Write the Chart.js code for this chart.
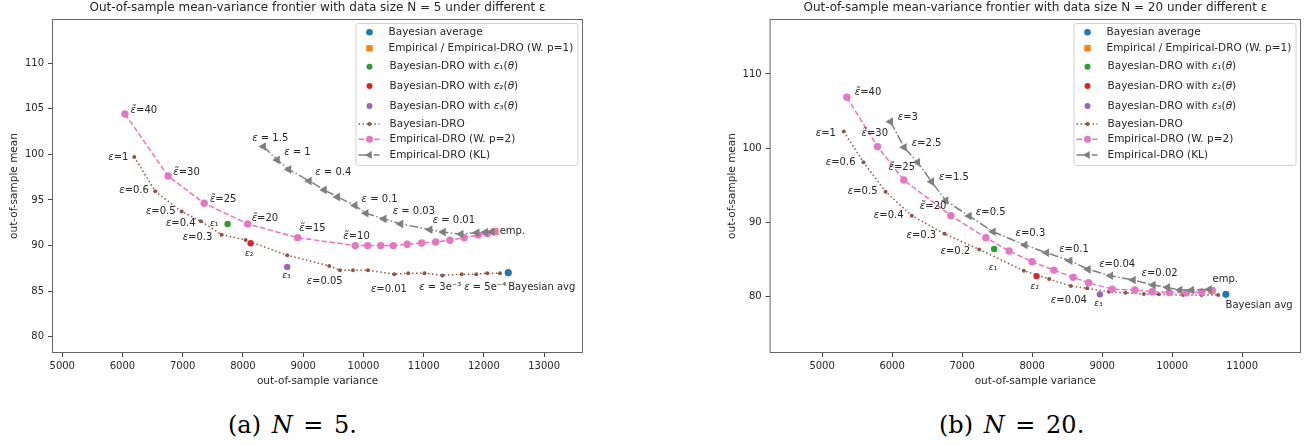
<!DOCTYPE html>
<html>
<head>
<meta charset="utf-8">
<script src="https://cdn.jsdelivr.net/npm/chart.js@4.4.1/dist/chart.umd.min.js"></script>
<style>
  html, body { margin: 0; padding: 0; background: #fff; }
  body { width: 1316px; height: 446px; position: relative; overflow: hidden; }
  canvas { position: absolute; top: 0; }
  #c5 { left: 0; }
  #c20 { left: 658px; }
  .caption { position: absolute; top: 410px; line-height: 30px; font-family: 'DejaVu Serif', 'Liberation Serif', serif; font-size: 24px; color: #000; white-space: nowrap; word-spacing: 3px; }
  #capA { left: 228px; }
  #capB { left: 939px; }
</style>
</head>
<body>
<canvas id="c5" width="658" height="395"></canvas>
<canvas id="c20" width="658" height="395"></canvas>
<div class="caption" id="capA">(a) <i>N</i> = 5.</div>
<div class="caption" id="capB">(b) <i>N</i> = 20.</div>
<script>
// ---- data, N = 5 (variance, mean) ----
const avgVar5 = [12404], avgMean5 = [87.02];
const empVar5 = [12183], empMean5 = [91.52];
const e1Var5 = [7745], e1Mean5 = [92.37];
const e2Var5 = [8127], e2Mean5 = [90.25];
const e3Var5 = [8735], e3Mean5 = [87.65];

const bdroVar5 = [6195, 6544, 6982, 7302, 7646, 8044, 8735, 9432, 9610, 9826, 10075, 10511, 10744, 11014, 11312, 11630, 11873, 12055, 12266];
const bdroMean5 = [99.72, 95.95, 93.72, 92.66, 91.19, 90.61, 88.93, 87.76, 87.29, 87.29, 87.29, 86.85, 86.96, 86.96, 86.72, 86.85, 86.85, 86.96, 86.96];

const wassVar5 = [6041, 6757, 7357, 8078, 8908, 9864, 10070, 10286, 10495, 10727, 10966, 11199, 11436, 11673, 11906, 12055, 12183];
const wassMean5 = [104.44, 97.63, 94.64, 92.37, 90.86, 89.99, 89.99, 89.99, 89.99, 90.14, 90.28, 90.39, 90.58, 90.86, 91.16, 91.30, 91.52];

const klVar5 = [8340, 8569, 8760, 9100, 9349, 9568, 9859, 10042, 10340, 10618, 11104, 11325, 11619, 11884, 12025, 12133];
const klMean5 = [100.87, 99.39, 98.35, 97.09, 96.10, 95.33, 94.40, 93.54, 92.92, 92.37, 91.74, 91.47, 91.25, 91.41, 91.46, 91.52];

const xTicks5 = [5000, 6000, 7000, 8000, 9000, 10000, 11000, 12000, 13000];
const yTicks5 = [80, 85, 90, 95, 100, 105, 110];

// label text and where it sits (variance, mean of its left-middle point)
const notes5 = [
  ['ε\u0303=40', 6135, 104.80], ['ε\u0303=30', 6843, 98.00], ['ε\u0303=25', 7452, 95.11],
  ['ε\u0303=20', 8144, 92.99], ['ε\u0303=15', 8934, 91.90], ['ε\u0303=10', 9665, 91.05],
  ['ε=1', 5764, 99.69], ['ε=0.6', 5946, 96.02], ['ε=0.5', 6389, 93.79], ['ε=0.4', 6721, 92.44],
  ['ε₁', 7452, 92.44], ['ε=0.3', 6999, 90.91], ['ε₂', 8033, 89.15], ['ε₃', 8652, 86.66],
  ['ε=0.05', 9057, 86.11], ['ε = 1.5', 8154, 101.77], ['ε = 1', 8685, 100.23], ['ε = 0.4', 9200, 98.00],
  ['ε = 0.1', 9970, 95.08], ['ε = 0.03', 10485, 93.79], ['ε = 0.01', 11149, 92.73], ['emp.', 12261, 91.52],
  ['ε=0.01', 10124, 85.20], ['ε = 3e⁻³', 10926, 85.42], ['ε = 5e⁻⁴', 11673, 85.42], ['Bayesian avg', 12404, 85.42]
];

// ---- data, N = 20 ----
const avgVar20 = [10767], avgMean20 = [80.30];
const empVar20 = [10567], empMean20 = [80.78];
const e1Var20 = [7457], e1Mean20 = [86.41];
const e2Var20 = [8063], e2Mean20 = [82.76];
const e3Var20 = [8967], e3Mean20 = [80.30];

const bdroVar20 = [5310, 5591, 5906, 6281, 6749, 7243, 7881, 8243, 8553, 8786, 9096, 9334, 9596, 9810, 10157, 10420, 10657];
const bdroMean20 = [102.23, 98.10, 94.14, 90.90, 88.47, 86.36, 83.48, 82.36, 81.42, 81.11, 80.65, 80.51, 80.34, 80.30, 80.20, 80.20, 80.20];

const wassVar20 = [5353, 5791, 6167, 6839, 7339, 7671, 8000, 8310, 8586, 8806, 9143, 9467, 9714, 9957, 10206, 10420, 10571];
const wassMean20 = [106.86, 100.20, 95.71, 90.90, 87.93, 86.14, 84.69, 83.57, 82.59, 81.86, 81.01, 80.88, 80.65, 80.57, 80.51, 80.61, 80.78];

const klVar20 = [5977, 6171, 6363, 6563, 6767, 7100, 7443, 7896, 8206, 8539, 8800, 9120, 9443, 9729, 9934, 10110, 10277, 10529];
const klMean20 = [103.57, 100.12, 98.10, 95.48, 92.92, 90.86, 88.74, 86.95, 85.91, 84.83, 83.67, 82.81, 82.23, 81.55, 81.24, 80.88, 80.88, 80.97];

const xTicks20 = [5000, 6000, 7000, 8000, 9000, 10000, 11000];
const yTicks20 = [80, 90, 100, 110];

const notes20 = [
  ['ε\u0303=40', 5467, 107.54], ['ε=3', 6081, 104.17], ['ε=1', 4910, 101.92], ['ε\u0303=30', 5563, 101.92],
  ['ε=2.5', 6281, 100.66], ['ε=0.6', 5053, 98.10], ['ε\u0303=25', 5949, 97.42], ['ε=1.5', 6671, 96.08],
  ['ε=0.5', 5367, 94.13], ['ε\u0303=20', 6396, 92.11], ['ε=0.5', 7196, 91.30], ['ε=0.4', 5739, 90.90],
  ['ε=0.3', 6206, 88.25], ['ε=0.2', 6691, 86.14], ['ε=0.3', 7763, 88.52], ['ε=0.1', 8386, 86.37],
  ['ε=0.04', 8957, 84.38], ['ε=0.02', 9563, 83.13], ['emp.', 10577, 82.36], ['ε₁', 7381, 83.88],
  ['ε₂', 7977, 81.32], ['ε=0.04', 8267, 79.43], ['ε₃', 8886, 78.99], ['Bayesian avg', 10763, 78.76]
];

const legendLabels = [
  'Bayesian average', 'Empirical / Empirical-DRO (W. p=1)',
  'Bayesian-DRO with ε₁(θ)', 'Bayesian-DRO with ε₂(θ)', 'Bayesian-DRO with ε₃(θ)',
  'Bayesian-DRO', 'Empirical-DRO (W. p=2)', 'Empirical-DRO (KL)'
];

// ---- drawing ----
const FONT = '"DejaVu Sans"';
const TXT = '#262626';
const BLUE = '#1f77b4', ORANGE = '#ff7f0e', GREEN = '#2ca02c', RED = '#d62728',
      PURPLE = '#9467bd', BROWN = '#8c564b', PINK = '#e377c2', GRAY = '#7f7f7f';

const DOTTED = [1.5, 2.5], DASHED = [5.5, 2.4], DASHDOT = [9, 2.4, 1.5, 2.4];

function pts(xs, ys) {
  return xs.map((v, i) => ({ x: v, y: ys[i] }));
}

// draw text, with ε and θ in italics like mathtext
function richText(ctx, text, x, y, size) {
  const parts = text.split(/(ε\u0303?|θ)/).filter(s => s.length);
  let cx = x;
  parts.forEach(s => {
    const it = /^[εθ]/.test(s);
    ctx.font = (it ? 'italic ' : '') + size + 'px ' + FONT;
    ctx.fillText(s, cx, y);
    cx += ctx.measureText(s).width;
  });
}

function drawMarker(ctx, style, x, y, r, color) {
  ctx.save();
  ctx.fillStyle = color;
  ctx.beginPath();
  if (style === 'rect') {
    ctx.rect(x - r, y - r, 2 * r, 2 * r);
  } else if (style === 'triangle') {
    ctx.moveTo(x - r, y);
    ctx.lineTo(x + r * 0.5, y - r * 0.87);
    ctx.lineTo(x + r * 0.5, y + r * 0.87);
    ctx.closePath();
  } else {
    ctx.arc(x, y, r, 0, Math.PI * 2);
  }
  ctx.fill();
  ctx.restore();
}

// legend handles, same order as the labels
const handles = [
  { style: 'circle', r: 3.3, color: BLUE },
  { style: 'rect', r: 3.2, color: ORANGE },
  { style: 'circle', r: 3, color: GREEN },
  { style: 'circle', r: 3, color: RED },
  { style: 'circle', r: 3, color: PURPLE },
  { style: 'circle', r: 2, color: BROWN, dash: DOTTED },
  { style: 'circle', r: 3.5, color: PINK, dash: DASHED },
  { style: 'triangle', r: 4.5, color: GRAY, dash: DASHDOT }
];
const rowY = [9.3, 25.3, 43.7, 63, 83, 101, 116.3, 132];

function framePlugin() {
  return {
    id: 'frame',
    afterDatasetsDraw(chart) {
      const { ctx, chartArea: a } = chart;
      ctx.save();
      ctx.strokeStyle = '#666';
      ctx.lineWidth = 1;
      ctx.strokeRect(a.left + 0.5, a.top + 0.5, a.right - a.left - 1, a.bottom - a.top - 1);
      ctx.restore();
    }
  };
}

function notesPlugin(notes) {
  return {
    id: 'notes',
    afterDatasetsDraw(chart) {
      const { ctx, scales: { x, y } } = chart;
      ctx.save();
      ctx.fillStyle = TXT;
      ctx.textBaseline = 'middle';
      ctx.textAlign = 'left';
      notes.forEach(([text, vx, vy]) => {
        const size = /^ε[₁₂₃]$/.test(text) ? 9 : 10;
        richText(ctx, text, x.getPixelForValue(vx), y.getPixelForValue(vy), size);
      });
      ctx.restore();
    }
  };
}

function legendPlugin() {
  return {
    id: 'boxLegend',
    afterDraw(chart) {
      const { ctx, chartArea: a } = chart;
      const w = 222, h = 142;
      const left = a.right - 5.5 - w, top = a.top + 4;
      ctx.save();
      ctx.beginPath();
      ctx.roundRect(left + 0.5, top + 0.5, w, h, 2.5);
      ctx.fillStyle = 'rgba(255,255,255,0.8)';
      ctx.fill();
      ctx.strokeStyle = '#d0d0d0';
      ctx.lineWidth = 1;
      ctx.stroke();
      legendLabels.forEach((label, i) => {
        const hd = handles[i];
        const cy = top + rowY[i];
        if (hd.dash) {
          ctx.save();
          ctx.strokeStyle = hd.color;
          ctx.lineWidth = 1.5;
          ctx.setLineDash(hd.dash);
          ctx.beginPath();
          ctx.moveTo(left + 3, cy);
          ctx.lineTo(left + 24, cy);
          ctx.stroke();
          ctx.restore();
        }
        drawMarker(ctx, hd.style, left + 14, cy, hd.r, hd.color);
        ctx.fillStyle = TXT;
        ctx.textBaseline = 'middle';
        richText(ctx, label, left + (i < 2 ? 33 : 34), cy, 10.5);
      });
      ctx.restore();
    }
  };
}

function dot(label, data, color, r, style, order) {
  return {
    label, data, order,
    showLine: false,
    pointStyle: style,
    pointRadius: r,
    pointBackgroundColor: color,
    pointBorderColor: color,
    pointBorderWidth: 0,
    backgroundColor: color,
    borderColor: color
  };
}

function curve(label, data, color, dash, r, style, order) {
  return {
    label, data, order,
    showLine: true,
    borderColor: color,
    borderWidth: 1.5,
    borderDash: dash,
    fill: false,
    tension: 0,
    pointStyle: style,
    pointRadius: r,
    pointRotation: style === 'triangle' ? -90 : 0,
    pointBackgroundColor: color,
    pointBorderColor: color,
    pointBorderWidth: 0
  };
}

function makeChart(id, p) {
  const tickFont = { family: FONT, size: 10 };
  const labelFont = { family: FONT, size: 10.5 };
  return new Chart(document.getElementById(id), {
    type: 'scatter',
    data: {
      datasets: [
        dot('Bayesian average', pts(p.avgVar, p.avgMean), BLUE, 3.6, 'circle', 8),
        dot('Empirical / Empirical-DRO (W. p=1)', pts(p.empVar, p.empMean), ORANGE, 5, 'rect', 7),
        dot('Bayesian-DRO with ε1', pts(p.e1Var, p.e1Mean), GREEN, 3.2, 'circle', 6),
        dot('Bayesian-DRO with ε2', pts(p.e2Var, p.e2Mean), RED, 3.2, 'circle', 5),
        dot('Bayesian-DRO with ε3', pts(p.e3Var, p.e3Mean), PURPLE, 3.2, 'circle', 4),
        curve('Bayesian-DRO', pts(p.bdroVar, p.bdroMean), BROWN, DOTTED, 2, 'circle', 3),
        curve('Empirical-DRO (W. p=2)', pts(p.wassVar, p.wassMean), PINK, DASHED, 3.7, 'circle', 2),
        curve('Empirical-DRO (KL)', pts(p.klVar, p.klMean), GRAY, DASHDOT, 5, 'triangle', 1)
      ]
    },
    options: {
      responsive: false,
      animation: false,
      events: [],
      layout: { padding: p.padding },
      plugins: {
        legend: { display: false },
        tooltip: { enabled: false },
        title: {
          display: true,
          fullSize: false,
          text: p.title,
          color: TXT,
          font: { family: FONT, size: 12, weight: 'normal', lineHeight: 1.2 },
          padding: { top: 0.8, bottom: 3.8 }
        }
      },
      scales: {
        x: {
          type: 'linear',
          min: p.xMin,
          max: p.xMax,
          afterBuildTicks: s => { s.ticks = p.xTicks.map(v => ({ value: v })); },
          afterFit: s => { s.height = 42; },
          ticks: { font: tickFont, color: TXT, padding: 3, maxRotation: 0, autoSkip: false, callback: v => String(v) },
          grid: { drawOnChartArea: false, drawTicks: true, tickLength: 4, color: '#444' },
          border: { display: false },
          title: { display: true, text: 'out-of-sample variance', color: TXT, font: labelFont, padding: { top: 0, bottom: 7.5 } }
        },
        y: {
          type: 'linear',
          min: p.yMin,
          max: p.yMax,
          afterBuildTicks: s => { s.ticks = p.yTicks.map(v => ({ value: v })); },
          afterFit: s => { s.width = 52; },
          ticks: { font: tickFont, color: TXT, padding: 4, autoSkip: false, callback: v => String(v) },
          grid: { drawOnChartArea: false, drawTicks: true, tickLength: 4, color: '#444' },
          border: { display: false },
          title: { display: true, text: 'out-of-sample mean', color: TXT, font: labelFont, padding: { top: 8.3, bottom: 0 } }
        }
      }
    },
    plugins: [framePlugin(), notesPlugin(p.notes), legendPlugin()]
  });
}

makeChart('c5', {
  title: 'Out-of-sample mean-variance frontier with data size N = 5 under different ε',
  avgVar: avgVar5, avgMean: avgMean5, empVar: empVar5, empMean: empMean5,
  e1Var: e1Var5, e1Mean: e1Mean5, e2Var: e2Var5, e2Mean: e2Mean5, e3Var: e3Var5, e3Mean: e3Mean5,
  bdroVar: bdroVar5, bdroMean: bdroMean5, wassVar: wassVar5, wassMean: wassMean5, klVar: klVar5, klMean: klMean5,
  xTicks: xTicks5, yTicks: yTicks5, notes: notes5,
  xMin: 4830, xMax: 13645, yMin: 78.2, yMax: 114.86,
  padding: { left: 0, right: 75, top: 0, bottom: 0 }
});

makeChart('c20', {
  title: 'Out-of-sample mean-variance frontier with data size N = 20 under different ε',
  avgVar: avgVar20, avgMean: avgMean20, empVar: empVar20, empMean: empMean20,
  e1Var: e1Var20, e1Mean: e1Mean20, e2Var: e2Var20, e2Mean: e2Mean20, e3Var: e3Var20, e3Mean: e3Mean20,
  bdroVar: bdroVar20, bdroMean: bdroMean20, wassVar: wassVar20, wassMean: wassMean20, klVar: klVar20, klMean: klMean20,
  xTicks: xTicks20, yTicks: yTicks20, notes: notes20,
  xMin: 4250, xMax: 11840, yMin: 72.4, yMax: 117.4,
  padding: { left: 59.6, right: 15, top: 0, bottom: 0 }
});
</script>
</body>
</html>
